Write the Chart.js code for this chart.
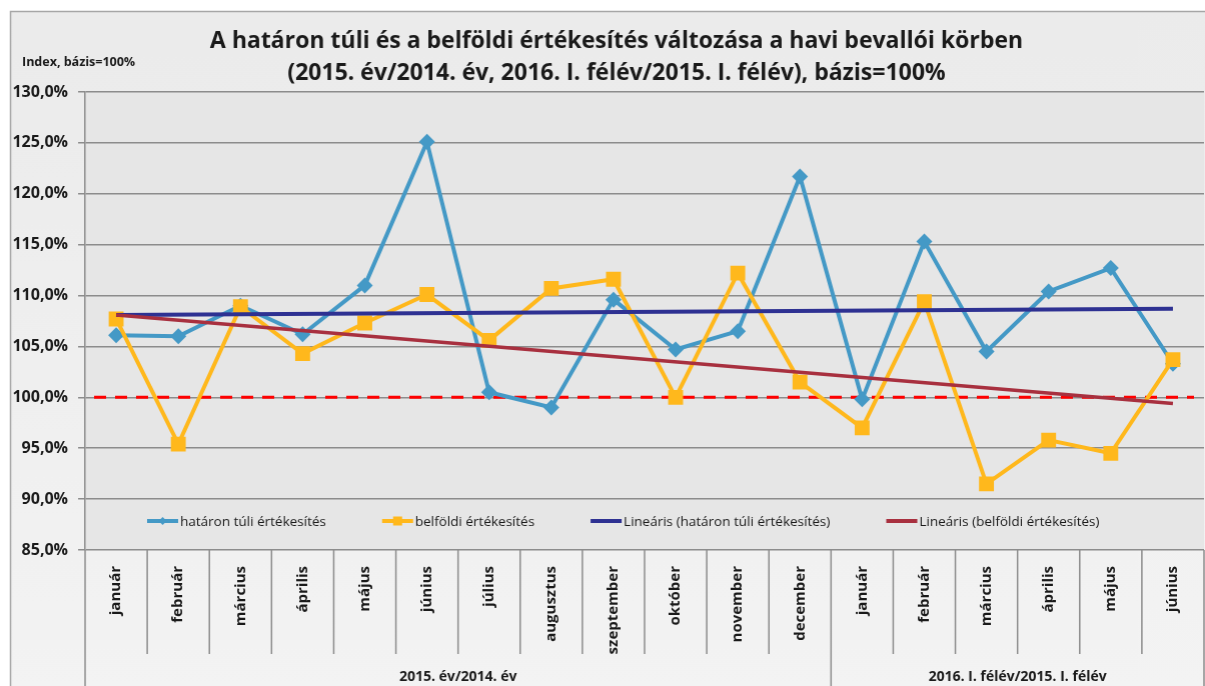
<!DOCTYPE html>
<html lang="hu">
<head>
<meta charset="utf-8">
<title>Értékesítés változása</title>
<script src="https://cdn.jsdelivr.net/npm/chart.js@4.4.1/dist/chart.umd.min.js"></script>
<style>
  html, body { margin: 0; padding: 0; background: #ffffff; overflow: hidden; }
  #wrap { width: 1205px; height: 686px; position: relative; }
</style>
</head>
<body>
<div id="wrap"><canvas id="chart"></canvas></div>
<script>
// Adatok (leolvasva az ábráról)
const months = ['január', 'február', 'március', 'április', 'május', 'június', 'július', 'augusztus',
  'szeptember', 'október', 'november', 'december', 'január', 'február', 'március', 'április', 'május', 'június'];
const periodLabels = ['2015. év/2014. év', '2016. I. félév/2015. I. félév'];
const periodLengths = [12, 6];

const abroadSales = [106.1, 106.0, 109.0, 106.2, 111.0, 125.1, 100.5, 99.0, 109.6, 104.7, 106.5, 121.7,
  99.8, 115.3, 104.5, 110.4, 112.7, 103.3];
const domesticSales = [107.7, 95.4, 108.9, 104.3, 107.3, 110.1, 105.6, 110.7, 111.6, 100.0, 112.2, 101.5,
  97.0, 109.4, 91.5, 95.8, 94.5, 103.7];

// Lineáris trend: kezdő és záró érték
const abroadTrend = [108.1, 108.7];
const domesticTrend = [108.1, 99.4];

const baseLevel = 100;
const yMin = 85;
const yMax = 130;
const yStep = 5;

const seriesNames = ['határon túli értékesítés', 'belföldi értékesítés',
  'Lineáris (határon túli értékesítés)', 'Lineáris (belföldi értékesítés)'];

const titleLines = ['A határon túli és a belföldi értékesítés változása a havi bevallói körben',
  '(2015. év/2014. év, 2016. I. félév/2015. I. félév), bázis=100%'];
const yAxisNote = 'Index, bázis=100%';

const FONT = '"Open Sans", "Noto Sans", sans-serif';
const TEXT = '#1a1a1a';
const GRID = '#8c8c8c';
const PLOT_RIGHT = 1203;

const lastIdx = months.length - 1;

// trendvonal: csak a két végpont, köztük a Chart.js húzza meg az egyenest
function trendSeries(ends) {
  const arr = months.map(() => null);
  arr[0] = ends[0];
  arr[lastIdx] = ends[1];
  return arr;
}

// Háttér, cím, elválasztók, 100%-os vonal, jelmagyarázat
const decorPlugin = {
  id: 'decor',
  beforeDraw(chart) {
    const { ctx, chartArea: a, width, height } = chart;
    ctx.save();
    ctx.fillStyle = '#ffffff';
    ctx.fillRect(0, 0, width, height);
    const g = ctx.createLinearGradient(0, 11, 0, height);
    g.addColorStop(0, '#ebebeb');
    g.addColorStop(1, '#f3f3f3');
    ctx.fillStyle = g;
    ctx.fillRect(10, 11, width - 10, height - 11);
    ctx.strokeStyle = '#a6a6a6';
    ctx.lineWidth = 1.5;
    ctx.beginPath();
    ctx.moveTo(10.5, height);
    ctx.lineTo(10.5, 11.5);
    ctx.lineTo(width, 11.5);
    ctx.stroke();
    ctx.fillStyle = '#e6e6e6';
    ctx.fillRect(a.left, a.top, a.right - a.left, a.bottom - a.top);

    ctx.fillStyle = TEXT;
    ctx.textAlign = 'center';
    ctx.textBaseline = 'middle';
    ctx.font = 'bold 23px ' + FONT;
    titleLines.forEach((t, i) => ctx.fillText(t, 616, 41 + i * 32));
    ctx.textAlign = 'left';
    ctx.font = 'bold 12.5px ' + FONT;
    ctx.fillText(yAxisNote, 22, 62);
    ctx.restore();
  },
  beforeDatasetsDraw(chart) {
    const { ctx, chartArea: a, scales } = chart;
    const y = scales.y.getPixelForValue(baseLevel);
    ctx.save();
    ctx.strokeStyle = '#ff0000';
    ctx.lineWidth = 3;
    ctx.setLineDash([12, 9]);
    ctx.beginPath();
    ctx.moveTo(a.left + 9, y);
    ctx.lineTo(a.right - 10, y);
    ctx.stroke();
    ctx.restore();
  },
  afterDraw(chart) {
    const { ctx, chartArea: a, scales, height } = chart;
    const x = scales.x;
    const half = (x.getPixelForValue(1) - x.getPixelForValue(0)) / 2;
    ctx.save();
    ctx.strokeStyle = GRID;
    ctx.lineWidth = 1.5;
    // kategóriahatárok
    const bounds = [0];
    let acc = 0;
    periodLengths.forEach(n => { acc += n; bounds.push(acc); });
    for (let i = 0; i <= months.length; i++) {
      const px = i === months.length ? x.getPixelForValue(lastIdx) + half : x.getPixelForValue(i) - half;
      const full = bounds.includes(i);
      ctx.beginPath();
      ctx.moveTo(px, a.bottom);
      ctx.lineTo(px, full ? height : a.bottom + 104);
      ctx.stroke();
    }
    // időszak feliratok
    ctx.fillStyle = TEXT;
    ctx.font = 'bold 14px ' + FONT;
    ctx.textAlign = 'center';
    ctx.textBaseline = 'middle';
    periodLabels.forEach((lbl, k) => {
      const l = x.getPixelForValue(bounds[k]) - half;
      const r = x.getPixelForValue(bounds[k + 1] - 1) + half;
      ctx.fillText(lbl, (l + r) / 2, a.bottom + 127);
    });
    // jelmagyarázat
    ctx.textAlign = 'left';
    const ly = a.bottom - 29;
    let lx = a.left + 62;
    ctx.font = '13.5px ' + FONT;
    chart.data.datasets.forEach(ds => {
      ctx.strokeStyle = ds.borderColor;
      ctx.lineWidth = 4;
      ctx.beginPath();
      ctx.moveTo(lx, ly);
      ctx.lineTo(lx + 31, ly);
      ctx.stroke();
      const cx = lx + 15.5;
      ctx.fillStyle = ds.borderColor;
      if (ds.pointStyle === 'rectRot') {
        ctx.beginPath();
        ctx.moveTo(cx, ly - 4);
        ctx.lineTo(cx + 4, ly);
        ctx.lineTo(cx, ly + 4);
        ctx.lineTo(cx - 4, ly);
        ctx.closePath();
        ctx.fill();
      } else if (ds.pointStyle === 'rect' && ds.pointRadius > 0) {
        ctx.fillRect(cx - 4.5, ly - 4.5, 9, 9);
      }
      ctx.fillStyle = TEXT;
      ctx.fillText(ds.label, lx + 33, ly + 1);
      lx += 33 + ctx.measureText(ds.label).width + 56;
    });
    ctx.restore();
  }
};

const data = {
  labels: months,
  datasets: [
    {
      label: seriesNames[0],
      data: abroadSales,
      borderColor: '#4499c6',
      backgroundColor: '#4499c6',
      borderWidth: 4,
      pointStyle: 'rectRot',
      pointRadius: 8,
      pointBorderWidth: 0,
      order: 4
    },
    {
      label: seriesNames[1],
      data: domesticSales,
      borderColor: '#ffb81c',
      backgroundColor: '#ffb81c',
      borderWidth: 4,
      pointStyle: 'rect',
      pointRadius: 10.5,
      pointBorderWidth: 0,
      order: 3
    },
    {
      label: seriesNames[2],
      data: trendSeries(abroadTrend),
      borderColor: '#2e3192',
      backgroundColor: '#2e3192',
      borderWidth: 4,
      pointRadius: 0,
      spanGaps: true,
      order: 2
    },
    {
      label: seriesNames[3],
      data: trendSeries(domesticTrend),
      borderColor: '#a8303f',
      backgroundColor: '#a8303f',
      borderWidth: 3.5,
      pointRadius: 0,
      spanGaps: true,
      order: 1
    }
  ]
};

const options = {
  responsive: true,
  maintainAspectRatio: false,
  animation: false,
  devicePixelRatio: 1,
  layout: { padding: { left: 0, right: 2, top: 92, bottom: 0 } },
  plugins: {
    legend: { display: false },
    tooltip: { enabled: false },
    title: { display: false }
  },
  scales: {
    x: {
      type: 'category',
      offset: true,
      grid: { display: false },
      border: { display: false },
      ticks: {
        color: TEXT,
        font: { family: FONT, size: 15, weight: 'bold' },
        minRotation: 90,
        maxRotation: 90,
        autoSkip: false,
        padding: 8
      },
      afterFit(scale) { scale.height = 136; }
    },
    y: {
      min: yMin,
      max: yMax,
      border: { display: true, color: GRID, width: 1.5 },
      grid: { color: GRID, lineWidth: 1.5, tickLength: 7 },
      ticks: {
        stepSize: yStep,
        color: TEXT,
        padding: 10,
        font: { family: FONT, size: 16, weight: 'bold' },
        callback: v => v.toFixed(1).replace('.', ',') + '%'
      },
      afterFit(scale) { scale.width = 85; }
    }
  }
};

const chart = new Chart(document.getElementById('chart'), {
  type: 'line',
  data,
  options,
  plugins: [decorPlugin]
});

// a Chart.js a jobb szélen tartalékot hagy a feliratoknak; a vászon szélesítésével a rajzterület 1203 px-ig ér
const extra = PLOT_RIGHT - chart.chartArea.right;
if (extra > 0) {
  document.getElementById('wrap').style.width = (1205 + extra) + 'px';
  chart.resize();
}
</script>
</body>
</html>
